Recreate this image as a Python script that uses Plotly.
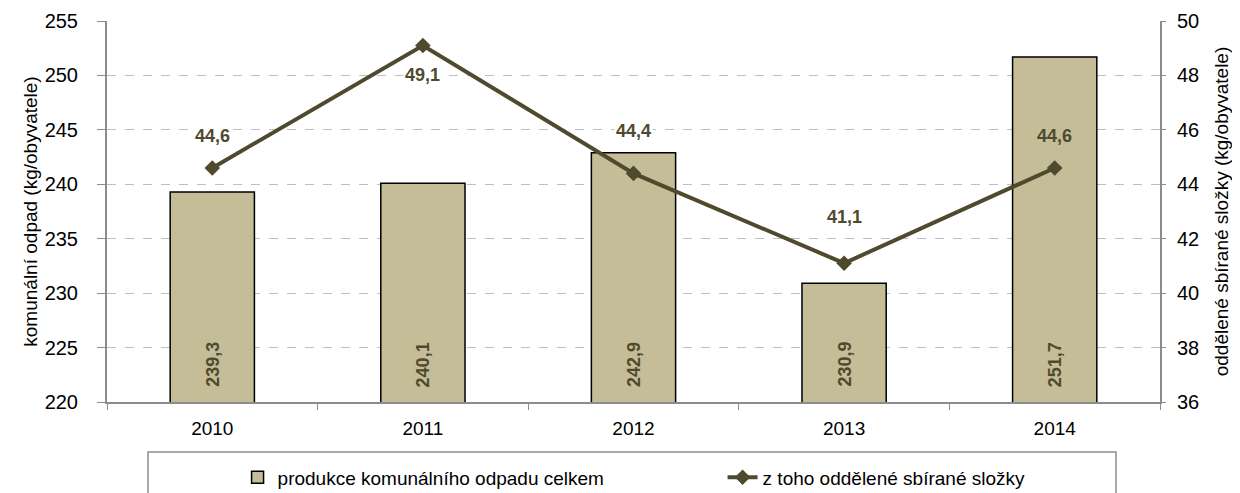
import plotly.graph_objects as go

years = ["2010", "2011", "2012", "2013", "2014"]
total_waste = [239.3, 240.1, 242.9, 230.9, 251.7]
separated = [44.6, 49.1, 44.4, 41.1, 44.6]
bar_labels = ["239,3", "240,1", "242,9", "230,9", "251,7"]
line_labels = ["44,6", "49,1", "44,4", "41,1", "44,6"]
label_shift = [32, -30, 42, 46, 32]
label_bg = ["white", "white", "white", "white", "rgba(0,0,0,0)"]

Y1_RANGE = [220, 255]
Y2_RANGE = [36, 50]

FONT = "Liberation Sans, Arial, sans-serif"
BAR = "#C4BD97"
LINE = "#4F4A2E"
AXIS = "#8C8C8C"
GRID = "#BFBFBF"

fig = go.Figure()
fig.add_trace(go.Bar(
    x=years, y=total_waste, name="produkce komunálního odpadu celkem",
    marker=dict(color=BAR, line=dict(color="#000000", width=1.5)),
    width=0.4, yaxis="y"))
fig.add_trace(go.Scatter(
    x=years, y=separated, name="z toho oddělené sbírané složky",
    mode="lines+markers", line=dict(color=LINE, width=4),
    marker=dict(symbol="diamond", size=12, color=LINE), yaxis="y2"))

for i, lab in enumerate(bar_labels):
    fig.add_annotation(x=i, y=Y1_RANGE[0], xref="x", yref="y", text="<b>%s</b>" % lab,
                       showarrow=False, textangle=-90, yanchor="bottom", yshift=13,
                       font=dict(family=FONT, size=18, color=LINE))

for i, (yv, lab, sh, bg) in enumerate(zip(separated, line_labels, label_shift, label_bg)):
    fig.add_annotation(x=i, y=yv, xref="x", yref="y2", text="<b>%s</b>" % lab,
                       showarrow=False, yshift=sh, bgcolor=bg,
                       font=dict(family=FONT, size=18, color=LINE))

fig.add_shape(type="rect", xref="paper", yref="paper",
              x0=(148 - 107) / 1053, x1=(1116 - 107) / 1053,
              y0=-0.35, y1=-0.131, line=dict(color=AXIS, width=1.5),
              fillcolor="rgba(0,0,0,0)")

# the page body adds an 8px offset, so margins compensate for it
fig.update_layout(
    width=1240, height=493,
    margin=dict(l=99, r=88, t=13, b=99, autoexpand=False),
    paper_bgcolor="white", plot_bgcolor="white",
    font=dict(family=FONT, size=17, color="#000000"),
    showlegend=True,
    legend=dict(orientation="h", x=0.124, xanchor="left", y=-0.198, yanchor="middle",
                font=dict(family=FONT, size=19, color="#000000"),
                entrywidth=440, bgcolor="rgba(0,0,0,0)"),
    xaxis=dict(type="category", range=[-0.5, 4.5], showline=True, linecolor=AXIS, linewidth=2,
               ticks="outside", tickson="boundaries", ticklen=6, tickcolor=AXIS,
               ticklabelstandoff=8,
               tickfont=dict(size=19), showgrid=False, tickangle=0),
    yaxis=dict(range=Y1_RANGE, dtick=5, showline=True, linecolor=AXIS, linewidth=2,
               ticks="outside", ticklen=8, tickcolor=AXIS, gridcolor=GRID,
               griddash="dash", gridwidth=1.2, zeroline=False, ticklabelstandoff=15,
               title=dict(text="komunální odpad (kg/obyvatele)", font=dict(size=19), standoff=2),
               tickfont=dict(size=20)),
    yaxis2=dict(range=Y2_RANGE, dtick=2, overlaying="y", side="right", showline=True,
                linecolor=AXIS, linewidth=2, ticks="outside", ticklen=4, tickcolor=AXIS,
                showgrid=False, zeroline=False, ticklabelstandoff=7,
                title=dict(text="oddělené sbírané složky (kg/obyvatele)", font=dict(size=19), standoff=16),
                tickfont=dict(size=20)),
)

fig.write_html("out.html")
